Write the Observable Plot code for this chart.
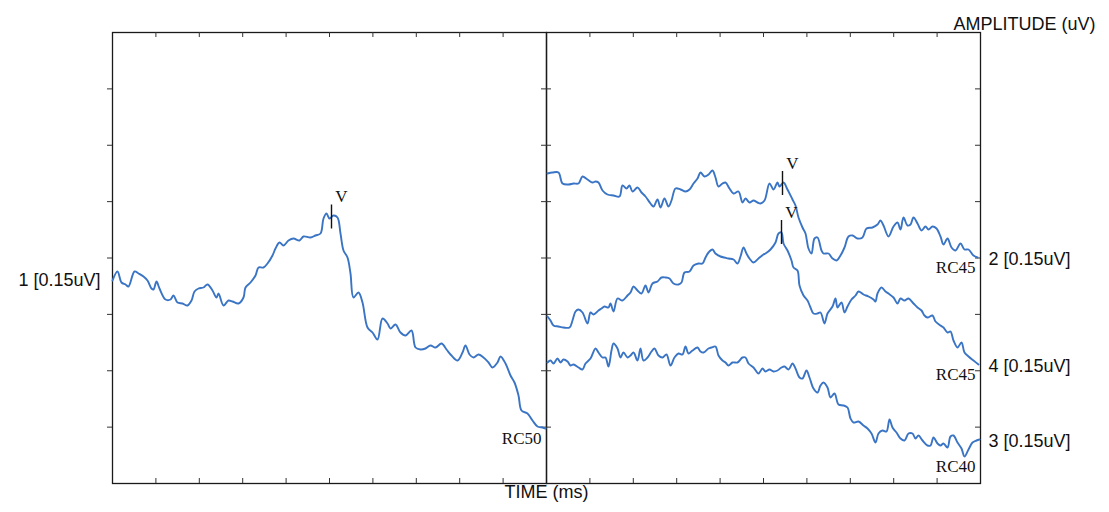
<!DOCTYPE html>
<html><head><meta charset="utf-8">
<script src="https://cdn.jsdelivr.net/npm/d3@7"></script>
<script src="https://cdn.jsdelivr.net/npm/@observablehq/plot@0.6"></script>
<style>body{margin:0;background:#fff;} #chart svg{display:block;}</style>
</head><body><div id="chart"></div>
<script>
// Four ABR traces; sample index within a 10-division sweep (434 samples), amplitude in arbitrary units (451 = full height, 8 divisions)
const traceIds = ["1", "2", "4", "3"];
const tracePanels = ["L", "R", "R", "R"];
const scaleLabels = ["1 [0.15uV]", "2 [0.15uV]", "4 [0.15uV]", "3 [0.15uV]"];
const rcLabels = ["RC50", "RC45", "RC45", "RC40"];
const waveVSample = [219, 236, 235, null];

const t1Samples = [0,5,9,13,16,22,26,31,35,39,41,44,47,53,58,61,65,70,75,79,82,86,91,95,100,104,106,111,116,120,126,131,133,138,143,146,151,155,160,163,167,171,176,181,187,191,198,203,208,211,214,217,221,225,228,231,235,238,241,246,250,255,260,265,270,275,278,283,288,293,299,303,308,313,318,323,329,334,339,345,350,353,357,361,366,371,376,380,385,388,393,398,402,406,409,415,420,425,430,433];
const t1Values = [203,212,201,199,197,212,210,207,203,195,194,202,195,184,184,188,181,180,178,183,192,195,196,199,193,186,190,178,183,182,180,186,196,201,208,216,216,220,228,235,241,238,243,245,243,247,246,248,250,265,270,265,268,266,250,233,226,210,186,191,181,156,151,144,165,160,155,159,151,148,153,136,134,135,138,136,140,134,128,123,131,138,129,126,129,126,121,116,121,127,120,108,101,88,73,70,63,57,56,55];

const t2Samples = [1,6,12,16,22,27,32,36,41,46,49,52,56,61,67,73,76,80,83,86,91,95,99,104,107,111,114,118,122,125,129,134,139,143,147,151,154,158,162,166,169,172,176,179,183,187,192,196,199,203,207,211,214,218,223,227,231,233,237,241,246,249,252,256,259,262,265,268,271,275,277,282,286,290,294,298,302,306,311,316,320,326,331,334,337,342,347,351,354,357,361,364,367,371,375,379,382,386,390,394,397,401,405,409,414,418,422,427,431];
const t2Values = [310,311,311,300,299,300,300,307,304,301,302,301,293,289,288,287,298,295,298,292,296,291,287,280,277,284,276,285,277,283,295,294,292,294,300,305,311,307,309,313,306,297,300,301,295,290,292,281,285,281,283,281,280,283,300,294,301,297,301,294,284,278,266,256,250,235,230,245,246,233,230,230,225,223,228,236,247,248,245,246,255,256,259,263,258,247,257,261,254,266,258,259,266,260,253,257,254,257,255,247,239,245,236,233,240,234,234,228,226];

const t4Samples = [1,4,7,12,17,23,26,29,32,36,41,44,47,52,55,58,62,64,67,71,76,81,84,87,91,95,99,102,106,111,115,119,123,127,132,135,138,143,147,152,156,159,162,166,169,174,178,182,187,191,194,197,200,203,207,212,217,219,224,229,232,235,237,241,245,247,251,253,257,261,264,267,271,274,278,281,286,289,291,295,298,301,305,309,312,317,322,327,329,331,335,339,342,347,351,354,358,362,367,371,375,378,381,386,389,394,397,401,404,407,411,415,418,422,427,432];
const t4Values = [167,163,158,157,156,156,163,172,174,171,160,171,169,173,175,177,176,180,172,185,183,188,191,197,193,190,198,191,200,202,206,206,205,200,199,201,211,212,218,220,220,226,231,234,230,227,226,225,224,220,227,236,230,225,221,225,229,230,234,241,250,251,240,233,223,216,213,198,188,183,176,170,170,171,160,170,177,185,176,181,171,177,184,188,192,189,187,184,182,190,196,192,190,186,180,185,183,185,180,176,173,168,166,168,162,158,156,151,152,143,136,141,131,127,123,119];

const t3Samples = [1,4,7,11,14,17,21,24,27,32,36,39,44,49,52,56,59,62,65,67,71,74,77,81,84,87,91,94,97,101,105,108,112,116,120,124,128,132,136,139,142,146,151,154,157,162,165,169,172,176,179,182,186,191,196,199,202,207,212,216,219,223,227,231,235,238,242,246,249,253,256,260,263,267,271,274,277,281,284,288,292,297,301,304,307,312,317,321,325,329,332,336,340,343,346,350,354,358,362,366,369,372,376,381,384,387,391,394,397,401,404,407,411,415,418,422,426,430,433];
const t3Values = [121,123,120,125,121,124,122,118,119,116,114,120,125,135,131,126,126,117,133,140,135,126,131,126,128,131,123,135,123,126,132,135,128,126,129,118,126,130,129,137,130,133,136,132,131,135,136,137,128,123,121,118,121,121,126,126,120,116,110,115,112,114,112,113,116,117,114,120,115,106,105,113,106,95,91,98,101,96,86,90,79,78,76,65,61,62,58,55,50,41,50,53,52,64,56,51,45,43,50,50,45,48,43,38,38,46,40,38,40,36,47,48,41,35,27,34,41,43,44];

const sampleLists = [t1Samples, t2Samples, t4Samples, t3Samples];
const valueLists = [t1Values, t2Values, t4Values, t3Values];

const SWEEP = 434, FULL = 451;
const xTicks = d3.range(1, 10).map(i => i * SWEEP / 10);
const yTicks = d3.range(1, 8).map(i => i * FULL / 8);

const points = traceIds.flatMap((id, k) => sampleLists[k].map((s, i) => ({
  trace: id, panel: tracePanels[k], sample: s, value: valueLists[k][i]
})));

function valueAt(k, s) {
  const xs = sampleLists[k], ys = valueLists[k];
  const i = d3.bisectLeft(xs, s);
  if (i <= 0) return ys[0];
  if (i >= xs.length) return ys[ys.length - 1];
  const a = xs[i - 1], b = xs[i];
  return ys[i - 1] + (ys[i] - ys[i - 1]) * (s - a) / (b - a);
}

const vMarks = traceIds.map((id, k) => waveVSample[k] == null ? null : ({
  panel: tracePanels[k], sample: waveVSample[k], value: valueAt(k, waveVSample[k])
})).filter(Boolean);

const rcMarks = traceIds.map((id, k) => ({
  panel: tracePanels[k], sample: SWEEP, text: rcLabels[k],
  value: d3.min(sampleLists[k].map((s, i) => s >= 400 ? valueLists[k][i] : Infinity))
}));

const scaleMarks = traceIds.map((id, k) => {
  const left = tracePanels[k] === "L";
  const vals = valueLists[k];
  return {panel: tracePanels[k], left, text: scaleLabels[k],
    sample: left ? 0 : SWEEP, value: left ? vals[0] : vals[vals.length - 1]};
});

const BLUE = "#3a74c4";
const SANS = "Liberation Sans, Arial, sans-serif";
const SERIF = "Liberation Serif, Times New Roman, serif";

const chart = Plot.plot({
  width: 1109, height: 512,
  marginLeft: 112, marginRight: 129, marginTop: 32, marginBottom: 29,
  fx: {domain: ["L", "R"], padding: 0, axis: null},
  x: {domain: [0, SWEEP], axis: null},
  y: {domain: [0, FULL], axis: null},
  style: {background: "#fff"},
  marks: [
    Plot.frame({stroke: "#1a1a1a", strokeWidth: 1.3}),
    // inward ticks on top and bottom edges
    Plot.tickX(xTicks, {x: d => d, insetTop: FULL - 5, stroke: "#333", strokeWidth: 1}),
    Plot.tickX(xTicks, {x: d => d, insetBottom: FULL - 5, stroke: "#333", strokeWidth: 1}),
    // right edge inward ticks (both panels)
    Plot.tickY(yTicks, {y: d => d, insetLeft: SWEEP - 5, stroke: "#333", strokeWidth: 1}),
    // left edge: outward on left panel, inward on right panel
    Plot.tickY(yTicks.map(v => ({v, p: "L"})), {fx: "p", y: "v", insetLeft: -5, insetRight: SWEEP, stroke: "#333", strokeWidth: 1}),
    Plot.tickY(yTicks.map(v => ({v, p: "R"})), {fx: "p", y: "v", insetRight: SWEEP - 5, stroke: "#333", strokeWidth: 1}),
    Plot.line(points, {fx: "panel", x: "sample", y: "value", z: "trace", stroke: BLUE, strokeWidth: 1.9, curve: "catmull-rom"}),
    Plot.ruleX(vMarks, {fx: "panel", x: "sample", y1: d => d.value - 12, y2: d => d.value + 12, stroke: "#111", strokeWidth: 1.4}),
    Plot.text(vMarks, {fx: "panel", x: "sample", y: d => d.value + 12, text: () => "V", dx: 10, dy: -8, fontSize: 17, fontFamily: SERIF, fill: "#111"}),
    Plot.text(rcMarks, {fx: "panel", x: "sample", y: "value", text: "text", textAnchor: "end", dx: -5, dy: 10, fontSize: 17, fontFamily: SERIF, fill: "#111"}),
    Plot.text(scaleMarks.filter(d => d.left), {fx: "panel", x: "sample", y: "value", text: "text", textAnchor: "end", dx: -12, fontSize: 18, fontFamily: SANS, fill: "#111"}),
    Plot.text(scaleMarks.filter(d => !d.left), {fx: "panel", x: "sample", y: "value", text: "text", textAnchor: "start", dx: 8, dy: 2, fontSize: 18, fontFamily: SANS, fill: "#111"}),
    Plot.text([{p: "R", t: "AMPLITUDE (uV)"}], {fx: "p", text: "t", frameAnchor: "top-right", textAnchor: "end", dx: 115, dy: -15, fontSize: 18, fontFamily: SANS, fill: "#111"}),
    Plot.text([{p: "L", t: "TIME (ms)"}], {fx: "p", text: "t", frameAnchor: "bottom-right", textAnchor: "middle", dy: 14, fontSize: 18, fontFamily: SANS, fill: "#111"})
  ]
});
document.getElementById("chart").append(chart);
</script>
</body></html>
